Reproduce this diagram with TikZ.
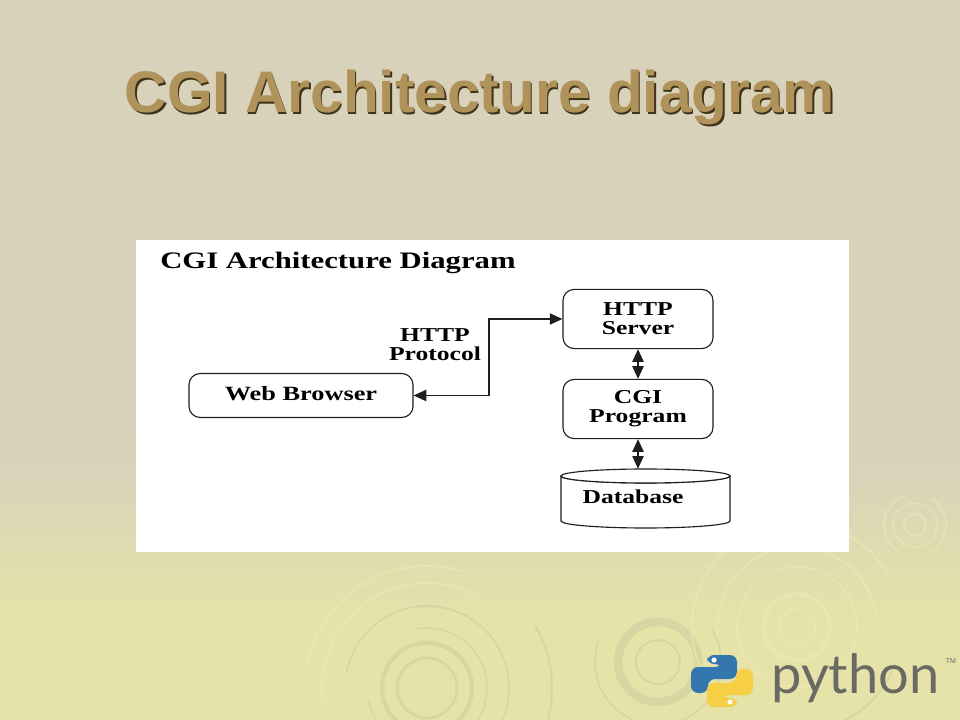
\documentclass[tikz,border=0pt]{standalone}
\usepackage{fontspec}
\setmainfont{Liberation Sans}
\newfontfamily\figfont[FakeStretch=1.3]{Liberation Serif}
\newfontfamily\logofont{Lato}
\usetikzlibrary{arrows.meta}
\usetikzlibrary{positioning}
\definecolor{slidetop}{HTML}{D8D2BA}
\definecolor{slidelow}{HTML}{E6E3A8}
\definecolor{titletan}{HTML}{B0935A}
\definecolor{titledark}{HTML}{3E3218}
\definecolor{ringdark}{HTML}{BDBB96}
\definecolor{ringlight}{HTML}{EFEDB6}
\definecolor{lineink}{HTML}{1E1E1E}
\definecolor{snakeblue}{HTML}{3477AE}
\definecolor{snakeyellow}{HTML}{F6CF45}
\definecolor{logogrey}{HTML}{6A6A64}
\newcommand{\snakepath}{(707,655) -- (737,655) -- (737,679) -- (708,679) -- (708,693) -- (691,693) -- (691,667) -- (722,667) -- (722,664) -- (707,664) -- cycle}

\begin{document}
\begin{tikzpicture}[
    x=0.025cm, y=-0.025cm,
    slidetitle/.style={font=\bfseries\fontsize{41.7}{46}\selectfont, text=titletan, anchor=base, inner sep=0pt},
    box/.style={draw=lineink, thick, fill=white, rounded corners=8pt, align=center,
      font=\figfont\bfseries\fontsize{14}{13.5}\selectfont, inner sep=0pt},
    wide/.style={box, minimum width=5.6cm, minimum height=1.1cm},
    tall/.style={box, minimum width=3.75cm, minimum height=1.48cm},
    store/.style={minimum width=4.225cm, minimum height=1.5cm, inner sep=0pt},
    dbline/.style={draw=lineink, thick, fill=white},
    caption/.style={font=\figfont\bfseries\fontsize{14}{13.5}\selectfont, align=center, text=black, inner sep=0pt},
    arrow/.style={line width=1pt, draw=lineink, >={Triangle[length=9pt,width=8pt]}},
    both/.style={arrow, <->},
    ring/.style={draw=ringdark, opacity=0.32},
    ringpale/.style={draw=ringlight, opacity=0.45},
    snake/.style={rounded corners=5pt}
  ]
  \clip (0,0) rectangle (960,720);
  \fill[top color=slidetop, bottom color=slidetop!97!slidelow] (0,0) rectangle (960,470);
  \fill[top color=slidetop!97!slidelow, bottom color=slidelow] (0,469) rectangle (960,625);
  \fill[slidelow] (0,624) rectangle (960,720);

  % ripples
  \foreach \cx/\cy/\r/\from/\to/\w in {
      427/688/45/0/360/3pt, 427/688/30/0/360/2pt, 427/688/60/-100/170/1.2pt,
      427/688/82/-170/110/1.2pt, 427/688/125/-30/30/1.5pt, 658/662/40/0/360/6pt,
      658/662/63/-30/200/1.2pt, 658/662/22/0/360/1.5pt, 797/627/105/20/70/1.5pt}
    \draw[ring, line width=\w] ([shift={(\from:\r)}]\cx,\cy)
      arc[start angle=\from, end angle=\to, radius=\r];
  \foreach \cx/\cy/\r/\from/\to/\w in {
      427/688/105/170/300/1.5pt, 427/688/122/190/290/1.5pt,
      797/627/105/140/330/1.5pt, 797/627/80/170/350/1.5pt, 797/627/60/0/360/1.2pt,
      797/627/33/0/360/3pt, 797/627/18/0/360/1.5pt,
      915/525/31/-60/60/1.2pt, 915/525/31/120/250/1.2pt, 915/525/22/0/360/1.2pt,
      915/525/11/0/360/1.5pt}
    \draw[ringpale, line width=\w] ([shift={(\from:\r)}]\cx,\cy)
      arc[start angle=\from, end angle=\to, radius=\r];

  % title
  \node[slidetitle, text=titledark] (titleback) at (481.5,114.5) {CGI Architecture diagram};
  \node[slidetitle] (title) at (480,113) {CGI Architecture diagram};

  % panel
  \fill[white] (136,240) rectangle (849,552);
  \node[caption, anchor=west, font=\figfont\bfseries\fontsize{16.8}{18}\selectfont] (heading) at (160,263) {CGI Architecture Diagram};

  \node[tall] (server) at (638,319) {HTTP\\Server};
  \node[tall] (program) at (638,409) {CGI\\Program};
  \node[wide] (browser) at (301,395.5) {\raisebox{3.5pt}{\fontsize{14.4}{15}\selectfont Web Browser}};
  \node[store] (database) at (645.5,499) {};
  \draw[dbline] (561,476) -- (561,521) arc[start angle=180, end angle=0, x radius=84.5, y radius=7]
    -- (730,476) arc[start angle=0, end angle=180, x radius=84.5, y radius=7] -- cycle;
  \draw[dbline] (645.5,476) ellipse [x radius=84.5, y radius=7];
  \node[caption] (dbname) at (633,497) {Database};
  \node[caption] (protocol) at (435,345) {HTTP\\Protocol};
  \coordinate (elbow) at (489,360);

  \draw[both] (browser.east) -| (elbow) |- (server.west);
  \draw[both] (server.south) -- (program.north);
  \draw[both] (program.south) -- (program.south |- database.north);

  % logo
  \fill[snakeblue, snake] \snakepath;
  \fill[snakeyellow, snake, rotate around={180:(722,681)}] \snakepath;
  \fill[white] (714,660) circle (2.6);
  \fill[white] (730,702) circle (2.6);
  \node[font=\logofont\fontsize{38.5}{40}\selectfont, text=logogrey, anchor=base west, inner sep=0pt]
    (logotext) at (771,693) {python};
  \node[font=\fontsize{5}{6}\selectfont, text=logogrey, inner sep=0pt] (logotm) at (951,661) {TM};
\end{tikzpicture}
\end{document}
